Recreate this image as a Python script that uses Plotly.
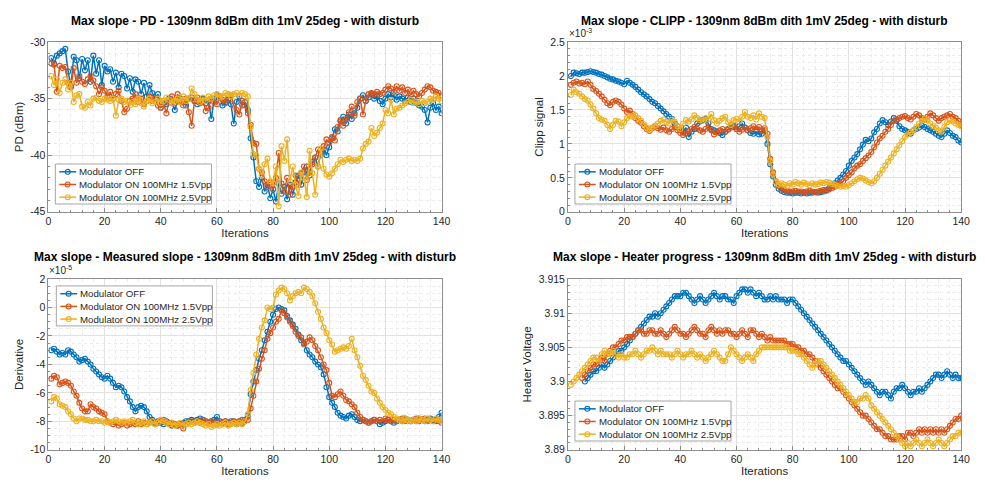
import plotly.graph_objects as go

# ---------------------------------------------------------------- data
iterations = list(range(1, 141))

series_names = ["Modulator OFF", "Modulator ON 100MHz 1.5Vpp", "Modulator ON 100MHz 2.5Vpp"]
series_colors = ["#0072BD", "#D95319", "#EDB120"]

# Photodiode power (dBm)
pd_off = [
    -31.4, -31.9, -31.2, -31.0, -30.8, -30.6, -32.6, -33.9, -31.3, -31.6,
    -33.2, -31.5, -32.5, -31.6, -33.5, -31.2, -32.8, -31.6, -33.8, -32.1,
    -32.6, -32.4, -33.5, -32.7, -34.0, -32.8, -33.0, -34.1, -33.2, -34.4,
    -33.3, -33.5, -34.6, -33.6, -34.8, -33.8, -34.5, -35.0, -34.6, -35.8,
    -35.2, -35.5, -35.0, -35.4, -36.0, -35.2, -35.0, -35.3, -35.6, -35.0,
    -34.9, -35.2, -35.5, -35.3, -35.0, -35.4, -35.2, -36.8, -35.0, -34.7,
    -34.9, -35.6, -35.3, -35.1, -35.5, -37.2, -35.3, -34.8, -35.6, -35.3,
    -36.0, -38.5, -40.2, -42.3, -42.8, -42.0, -43.2, -42.6, -43.8, -43.0,
    -44.1, -42.5, -43.4, -42.8, -43.9, -42.6, -43.5, -42.4, -41.8, -42.6,
    -41.5, -41.0, -41.8, -40.6, -40.2, -41.0, -39.8, -39.5, -40.0, -39.3,
    -38.5, -37.7, -37.9, -37.0, -36.6, -37.2, -36.4, -36.8, -36.3, -35.8,
    -35.0, -34.7, -35.2, -34.9, -34.6, -35.0, -34.8, -35.2, -35.5, -35.0,
    -34.6, -34.9, -34.7, -35.1, -34.8, -35.0, -35.2, -34.9, -35.3, -35.0,
    -35.4, -35.6, -35.7, -36.0, -37.1, -35.8, -35.4, -36.0, -35.7, -36.3,
]
pd_on15 = [
    -31.9, -32.0, -34.4, -32.1, -32.3, -32.2, -33.6, -34.0, -32.3, -33.6,
    -33.0, -33.5, -33.7, -33.3, -33.0, -33.4, -33.9, -34.6, -34.0, -34.3,
    -34.8, -34.4, -35.0, -34.6, -34.3, -35.2, -36.2, -35.9, -35.2, -35.0,
    -34.6, -35.3, -35.0, -35.5, -35.2, -34.8, -35.2, -35.0, -35.6, -35.8,
    -35.4, -36.3, -35.1, -34.8, -35.4, -34.6, -35.3, -35.6, -35.0, -36.2,
    -37.4, -35.2, -34.9, -35.4, -35.1, -36.1, -35.8, -35.0, -35.3, -35.5,
    -34.8, -35.1, -35.4, -35.0, -34.7, -35.6, -36.0, -36.4, -35.2, -35.6,
    -36.3, -37.3, -38.9, -39.0, -41.2, -41.5, -42.3, -42.8, -42.4, -43.0,
    -42.0, -39.8, -42.5, -43.2, -42.0, -43.5, -42.8, -41.8, -42.6, -41.6,
    -41.0, -42.2, -41.5, -40.8, -40.2, -39.5, -40.0, -39.2, -38.6, -38.9,
    -38.4, -38.7, -37.5, -36.9, -37.4, -36.8, -36.2, -35.7, -36.5, -35.3,
    -35.0, -36.4, -35.2, -34.6, -34.5, -34.6, -34.4, -34.6, -34.5, -34.2,
    -33.9, -34.1, -34.4, -33.9, -34.3, -34.0, -34.5, -34.2, -34.7, -34.3,
    -34.6, -34.8, -34.5, -34.2, -33.9, -34.0, -34.3, -34.4, -34.5, -34.7,
]
pd_on25 = [
    -33.0, -33.8, -33.3, -34.5, -33.6, -33.3, -34.2, -33.6, -35.3, -34.7,
    -34.6, -35.7, -35.8, -35.3, -35.6, -35.0, -34.9, -35.2, -35.3, -35.0,
    -35.1, -35.2, -35.0, -36.5, -35.1, -35.0, -35.3, -35.2, -35.6, -35.3,
    -35.5, -35.0, -35.4, -35.7, -35.2, -35.0, -35.4, -35.3, -35.0, -35.4,
    -35.2, -34.9, -35.1, -35.4, -35.2, -35.0, -35.3, -34.8, -35.2, -35.0,
    -34.1, -34.6, -35.1, -35.3, -34.9, -35.2, -34.8, -35.0, -34.7, -34.6,
    -34.9, -34.8, -34.5, -34.6, -34.8, -34.6, -34.5, -34.7, -34.5, -34.6,
    -34.8, -37.5, -39.9, -40.0, -41.2, -41.8, -40.8, -40.3, -42.3, -42.5,
    -41.0, -44.5, -39.2, -40.5, -38.6, -42.3, -41.0, -42.6, -43.6, -41.5,
    -42.0, -43.7, -39.6, -41.6, -43.5, -41.0, -39.4, -41.2, -41.7, -41.9,
    -41.6, -41.2, -40.8, -40.4, -40.6, -40.4, -40.3, -40.5, -40.4, -40.5,
    -40.3, -39.4, -39.0, -38.8, -37.6, -38.3, -38.0, -37.6, -37.2, -36.0,
    -36.3, -35.1, -36.4, -35.9, -35.8, -35.6, -35.4, -35.3, -35.1, -35.4,
    -35.3, -35.5, -35.2, -35.4, -35.3, -35.0, -35.1, -34.8, -35.0, -35.2,
]

# Clipping signal, in units of 1e-3
clipp_off = [
    2.00, 2.05, 2.04, 2.03, 2.05, 2.05, 2.06, 2.07, 2.06, 2.05,
    2.03, 2.02, 2.00, 1.98, 1.96, 1.95, 1.93, 1.92, 1.90, 1.88,
    1.93, 1.90, 1.87, 1.84, 1.80, 1.76, 1.73, 1.70, 1.66, 1.62,
    1.60, 1.56, 1.52, 1.48, 1.44, 1.40, 1.37, 1.30, 1.26, 1.20,
    1.18, 1.24, 1.10, 1.18, 1.22, 1.30, 1.33, 1.35, 1.37, 1.30,
    1.22, 1.20, 1.18, 1.16, 1.13, 1.18, 1.22, 1.28, 1.25, 1.22,
    1.26, 1.30, 1.24, 1.20, 1.16, 1.15, 1.18, 1.14, 1.15, 1.20,
    1.00, 0.70, 0.52, 0.40, 0.34, 0.31, 0.29, 0.28, 0.28, 0.27,
    0.28, 0.28, 0.27, 0.28, 0.27, 0.28, 0.28, 0.29, 0.28, 0.29,
    0.30, 0.32, 0.35, 0.38, 0.42, 0.46, 0.50, 0.55, 0.60, 0.68,
    0.75, 0.80, 0.85, 0.92, 0.99, 1.06, 1.04, 1.08, 1.17, 1.22,
    1.30, 1.35, 1.32, 1.28, 1.33, 1.38, 1.34, 1.26, 1.22, 1.20,
    1.18, 1.15, 1.20, 1.22, 1.24, 1.27, 1.25, 1.22, 1.20, 1.18,
    1.15, 1.12, 1.10, 1.15, 1.20, 1.16, 1.12, 1.10, 1.05, 1.02,
]
clipp_on15 = [
    1.87, 1.90, 1.92, 1.89, 1.90, 1.88, 1.92, 1.87, 1.81, 1.78,
    1.74, 1.70, 1.65, 1.60, 1.57, 1.62, 1.64, 1.62, 1.58, 1.52,
    1.47, 1.49, 1.44, 1.38, 1.34, 1.31, 1.26, 1.22, 1.19, 1.23,
    1.26, 1.23, 1.21, 1.24, 1.20, 1.18, 1.22, 1.25, 1.20, 1.16,
    1.13, 1.15, 1.19, 1.22, 1.25, 1.22, 1.20, 1.18, 1.22, 1.25,
    1.20, 1.14, 1.17, 1.20, 1.22, 1.18, 1.21, 1.24, 1.27, 1.22,
    1.18, 1.21, 1.24, 1.20, 1.23, 1.26, 1.22, 1.25, 1.20, 1.23,
    1.15, 0.78, 0.58, 0.45, 0.38, 0.34, 0.32, 0.31, 0.30, 0.30,
    0.31, 0.30, 0.30, 0.29, 0.30, 0.31, 0.30, 0.29, 0.30, 0.31,
    0.32, 0.31, 0.33, 0.35, 0.37, 0.40, 0.42, 0.45, 0.50, 0.54,
    0.58, 0.64, 0.68, 0.70, 0.75, 0.79, 0.83, 0.88, 0.95, 1.02,
    1.08, 1.12, 1.18, 1.22, 1.28, 1.34, 1.36, 1.38, 1.40, 1.41,
    1.38, 1.36, 1.40, 1.44, 1.42, 1.38, 1.36, 1.40, 1.45, 1.42,
    1.38, 1.34, 1.38, 1.40, 1.42, 1.44, 1.40, 1.38, 1.34, 1.28,
]
clipp_on25 = [
    1.72, 1.80, 1.76, 1.74, 1.70, 1.66, 1.64, 1.58, 1.52, 1.45,
    1.38, 1.36, 1.34, 1.28, 1.22, 1.28, 1.34, 1.33, 1.26, 1.32,
    1.38, 1.41, 1.40, 1.42, 1.38, 1.34, 1.29, 1.24, 1.20, 1.24,
    1.27, 1.30, 1.34, 1.36, 1.32, 1.30, 1.36, 1.33, 1.26, 1.22,
    1.30, 1.35, 1.33, 1.36, 1.42, 1.38, 1.35, 1.34, 1.38, 1.36,
    1.44, 1.35, 1.30, 1.34, 1.38, 1.40, 1.32, 1.28, 1.35, 1.37,
    1.33, 1.40, 1.47, 1.40, 1.38, 1.42, 1.36, 1.45, 1.40, 1.38,
    1.10, 0.75, 0.55, 0.44, 0.40, 0.42, 0.40, 0.38, 0.42, 0.40,
    0.44, 0.42, 0.40, 0.43, 0.41, 0.39, 0.42, 0.40, 0.41, 0.43,
    0.42, 0.44, 0.43, 0.41, 0.40, 0.38, 0.37, 0.38, 0.37, 0.39,
    0.42, 0.45, 0.48, 0.50, 0.49, 0.46, 0.44, 0.42, 0.45, 0.50,
    0.56, 0.62, 0.68, 0.74, 0.80, 0.86, 0.92, 0.98, 1.04, 1.10,
    1.14, 1.17, 1.20, 1.25, 1.30, 1.34, 1.37, 1.35, 1.30, 1.26,
    1.24, 1.20, 1.18, 1.25, 1.32, 1.35, 1.33, 1.30, 1.28, 1.26,
]

# Measured slope (derivative), in units of 1e-5
slope_off = [
    -3.0, -2.9, -3.1, -3.3, -3.2, -3.3, -3.0, -3.1, -3.3, -3.5,
    -3.8, -3.7, -3.6, -3.8, -4.0, -4.3, -4.5, -4.7, -4.9, -5.0,
    -4.8, -5.0, -5.3, -5.6, -5.5, -5.6, -5.9, -6.3, -6.6, -7.0,
    -7.3, -7.0, -6.9, -7.0, -7.3, -7.7, -7.9, -8.1, -8.0, -8.1,
    -8.2, -8.0, -8.1, -8.3, -8.2, -8.3, -8.2, -8.1, -8.0, -8.0,
    -7.9, -8.0, -7.9, -7.8, -7.9, -8.0, -8.1, -8.0, -7.9, -7.7,
    -8.0, -8.1, -8.0, -8.1, -8.0, -8.0, -8.2, -8.0, -8.1, -7.9,
    -7.6, -6.1, -5.2, -4.4, -3.6, -3.0, -2.3, -1.7, -1.0, -0.5,
    -0.1, 0.0, -0.1, -0.2, -0.6, -0.9, -1.2, -1.5, -1.9, -2.3,
    -2.5, -3.0, -3.3, -3.5, -3.8, -4.0, -4.2, -4.7, -5.6, -6.3,
    -6.7, -7.0, -7.4, -7.6, -7.7, -7.8, -7.6, -7.5, -7.7, -7.9,
    -8.0, -7.9, -8.0, -8.1, -8.0, -7.9, -8.0, -8.2, -8.1, -8.0,
    -7.9, -8.0, -8.1, -8.0, -7.9, -8.0, -7.8, -7.9, -8.0, -7.9,
    -8.0, -7.8, -7.9, -8.0, -7.9, -7.8, -7.9, -8.0, -7.7, -7.4,
]
slope_on15 = [
    -5.0, -4.8, -4.9, -5.4, -5.3, -5.2, -5.3, -5.5, -5.9, -6.2,
    -6.7, -7.1, -7.3, -7.3, -6.8, -7.0, -7.1, -7.3, -7.4, -7.5,
    -8.0, -8.1, -8.2, -8.1, -8.3, -8.2, -8.1, -8.3, -8.2, -8.1,
    -8.2, -8.0, -8.2, -8.1, -8.2, -8.1, -8.0, -8.2, -8.1, -8.0,
    -7.9, -8.1, -8.2, -8.1, -8.2, -8.3, -8.2, -8.5, -8.2, -8.1,
    -8.0, -8.1, -8.0, -8.1, -7.9, -8.0, -8.1, -8.0, -8.1, -8.2,
    -8.0, -8.1, -8.0, -8.2, -8.1, -8.0, -8.1, -8.0, -7.9, -8.0,
    -7.9, -7.1, -6.2, -5.2, -4.3, -3.6, -3.0, -2.2, -1.8, -1.4,
    -1.0, -0.8, -0.2, -0.4, -0.7, -1.0, -1.3, -1.7, -2.0, -2.1,
    -2.6, -2.4, -2.1, -2.3, -2.7, -3.0, -3.5, -4.0, -4.4, -5.3,
    -6.2, -6.3, -6.1, -5.9, -6.2, -6.5, -6.6, -6.8, -7.0, -7.4,
    -7.7, -7.9, -8.0, -8.1, -8.0, -7.9, -8.0, -7.9, -8.0, -7.8,
    -7.9, -8.0, -7.9, -8.0, -7.9, -7.8, -8.0, -7.9, -8.0, -7.9,
    -7.8, -8.0, -7.9, -7.8, -8.0, -7.9, -8.0, -7.9, -8.0, -8.1,
]
slope_on25 = [
    -6.6, -6.3, -6.4, -6.8, -6.9, -7.0, -7.3, -7.5, -7.8, -8.0,
    -7.8, -7.8, -7.9, -7.9, -8.0, -8.0, -7.9, -8.0, -8.0, -8.1,
    -8.0, -8.1, -8.0, -7.9, -8.0, -8.1, -8.0, -8.1, -8.0, -7.9,
    -8.1, -8.2, -8.1, -8.0, -8.2, -8.1, -8.0, -8.2, -8.1, -7.9,
    -8.0, -8.1, -8.2, -8.1, -8.3, -8.2, -8.1, -8.3, -8.2, -8.1,
    -8.2, -8.1, -8.0, -8.1, -8.2, -8.3, -8.2, -8.4, -8.3, -8.2,
    -8.3, -8.2, -8.1, -8.3, -8.2, -8.1, -8.2, -8.1, -8.2, -8.0,
    -7.5, -5.8, -4.6, -3.3, -2.2, -1.4, -0.9, 0.0, -0.1, 0.0,
    0.9, 1.2, 1.4, 1.3, 1.0, 0.5, 0.8, 1.0, 1.1, 1.0,
    1.4, 1.3, 1.1, 0.8, 0.3, -0.3, -0.8, -1.4, -1.8, -2.3,
    -2.6, -3.1, -3.0, -2.9, -2.8, -2.9, -2.7, -2.2, -3.0, -3.5,
    -4.1, -4.8, -5.1, -5.5, -5.9, -6.0, -6.4, -6.7, -7.0, -7.2,
    -7.4, -7.5, -7.7, -7.8, -7.9, -8.0, -7.8, -7.9, -8.0, -7.9,
    -8.0, -7.8, -7.9, -8.0, -7.8, -7.9, -8.0, -7.8, -7.9, -8.0,
]

# Heater voltage (V); None where the run has no sample yet
heater_off = [
    None, None, None, None, None, 3.9000, 3.9005, 3.9010, 3.9015, 3.9015,
    3.9020, 3.9025, 3.9020, 3.9025, 3.9030, 3.9035, 3.9040, 3.9045, 3.9045, 3.9050,
    3.9055, 3.9060, 3.9065, 3.9070, 3.9075, 3.9080, 3.9085, 3.9090, 3.9095, 3.9095,
    3.9100, 3.9095, 3.9100, 3.9105, 3.9110, 3.9115, 3.9120, 3.9125, 3.9125, 3.9125,
    3.9130, 3.9130, 3.9125, 3.9120, 3.9115, 3.9120, 3.9125, 3.9120, 3.9115, 3.9120,
    3.9125, 3.9130, 3.9125, 3.9120, 3.9125, 3.9125, 3.9120, 3.9120, 3.9115, 3.9125,
    3.9130, 3.9135, 3.9135, 3.9130, 3.9135, 3.9130, 3.9125, 3.9130, 3.9125, 3.9120,
    3.9120, 3.9125, 3.9120, 3.9125, 3.9120, 3.9120, 3.9120, 3.9115, 3.9120, 3.9120,
    3.9115, 3.9110, 3.9105, 3.9100, 3.9095, 3.9090, 3.9085, 3.9080, 3.9075, 3.9070,
    3.9065, 3.9060, 3.9055, 3.9050, 3.9045, 3.9040, 3.9035, 3.9030, 3.9030, 3.9025,
    3.9020, 3.9015, 3.9010, 3.9005, 3.9000, 3.8995, 3.9000, 3.8995, 3.8990, 3.8985,
    3.8980, 3.8985, 3.8985, 3.8980, 3.8975, 3.8985, 3.8990, 3.8990, 3.8995, 3.8990,
    3.8985, 3.8980, 3.8985, 3.8985, 3.8990, 3.8985, 3.8990, 3.8995, 3.9000, 3.9005,
    3.9010, 3.9010, 3.9005, 3.9010, 3.9015, 3.9010, 3.9005, 3.9010, 3.9005, 3.9005,
]
heater_on15 = [
    None, None, None, None, 3.9005, 3.9010, 3.9015, 3.9020, 3.9025, 3.9025,
    3.9030, 3.9035, 3.9030, 3.9040, 3.9045, 3.9050, 3.9050, 3.9055, 3.9060, 3.9060,
    3.9065, 3.9065, 3.9065, 3.9070, 3.9075, 3.9075, 3.9070, 3.9070, 3.9075, 3.9075,
    3.9070, 3.9070, 3.9075, 3.9070, 3.9065, 3.9070, 3.9075, 3.9080, 3.9075, 3.9070,
    3.9070, 3.9065, 3.9070, 3.9075, 3.9080, 3.9075, 3.9070, 3.9070, 3.9065, 3.9075,
    3.9080, 3.9075, 3.9070, 3.9075, 3.9070, 3.9075, 3.9075, 3.9070, 3.9070, 3.9065,
    3.9070, 3.9075, 3.9070, 3.9065, 3.9075, 3.9075, 3.9070, 3.9065, 3.9070, 3.9065,
    3.9060, 3.9065, 3.9060, 3.9060, 3.9060, 3.9060, 3.9060, 3.9055, 3.9055, 3.9055,
    3.9050, 3.9050, 3.9045, 3.9045, 3.9040, 3.9040, 3.9035, 3.9030, 3.9025, 3.9020,
    3.9015, 3.9010, 3.9005, 3.9000, 3.8995, 3.8990, 3.8990, 3.8985, 3.8980, 3.8975,
    3.8970, 3.8965, 3.8960, 3.8955, 3.8950, 3.8950, 3.8945, 3.8940, 3.8935, 3.8930,
    3.8930, 3.8925, 3.8920, 3.8920, 3.8915, 3.8915, 3.8915, 3.8920, 3.8920, 3.8915,
    3.8925, 3.8925, 3.8920, 3.8925, 3.8930, 3.8925, 3.8930, 3.8925, 3.8930, 3.8925,
    3.8930, 3.8925, 3.8930, 3.8925, 3.8930, 3.8935, 3.8940, 3.8945, 3.8945, 3.8950,
]
heater_on25 = [
    3.8995, 3.9000, 3.9005, 3.9010, 3.9015, 3.9020, 3.9025, 3.9030, 3.9035, 3.9035,
    3.9030, 3.9040, 3.9045, 3.9040, 3.9040, 3.9045, 3.9040, 3.9035, 3.9040, 3.9035,
    3.9035, 3.9040, 3.9040, 3.9045, 3.9040, 3.9035, 3.9040, 3.9045, 3.9045, 3.9050,
    3.9045, 3.9040, 3.9045, 3.9040, 3.9040, 3.9040, 3.9035, 3.9040, 3.9045, 3.9040,
    3.9035, 3.9040, 3.9040, 3.9045, 3.9040, 3.9035, 3.9040, 3.9035, 3.9030, 3.9035,
    3.9040, 3.9045, 3.9040, 3.9035, 3.9030, 3.9030, 3.9040, 3.9050, 3.9045, 3.9040,
    3.9035, 3.9030, 3.9035, 3.9040, 3.9035, 3.9030, 3.9040, 3.9045, 3.9050, 3.9050,
    3.9050, 3.9050, 3.9050, 3.9050, 3.9050, 3.9050, 3.9050, 3.9050, 3.9045, 3.9045,
    3.9045, 3.9040, 3.9040, 3.9035, 3.9030, 3.9025, 3.9020, 3.9025, 3.9030, 3.9030,
    3.9025, 3.9020, 3.9015, 3.9010, 3.9005, 3.9000, 3.8995, 3.8990, 3.8985, 3.8980,
    3.8975, 3.8970, 3.8970, 3.8975, 3.8975, 3.8980, 3.8975, 3.8965, 3.8960, 3.8955,
    3.8950, 3.8945, 3.8940, 3.8935, 3.8930, 3.8925, 3.8920, 3.8915, 3.8910, 3.8905,
    3.8910, 3.8905, 3.8910, 3.8915, 3.8910, 3.8905, 3.8910, 3.8915, 3.8910, 3.8905,
    3.8910, 3.8915, 3.8910, 3.8905, 3.8910, 3.8915, 3.8920, 3.8920, 3.8925, 3.8925,
]

# Tick values / labels
x_ticks = [0, 20, 40, 60, 80, 100, 120, 140]
pd_ticks = [-45, -40, -35, -30]
pd_ticklabels = ["-45", "-40", "-35", "-30"]
clipp_ticks = [0, 0.5, 1, 1.5, 2, 2.5]
clipp_ticklabels = ["0", "0.5", "1", "1.5", "2", "2.5"]
slope_ticks = [-10, -8, -6, -4, -2, 0, 2]
slope_ticklabels = ["-10", "-8", "-6", "-4", "-2", "0", "2"]
heater_ticks = [3.89, 3.895, 3.9, 3.905, 3.91, 3.915]
heater_ticklabels = ["3.89", "3.895", "3.9", "3.905", "3.91", "3.915"]

panel_titles = [
    "Max slope - PD - 1309nm 8dBm dith 1mV 25deg - with disturb",
    "Max slope - CLIPP - 1309nm 8dBm dith 1mV 25deg - with disturb",
    "Max slope - Measured slope - 1309nm 8dBm dith 1mV 25deg - with disturb",
    "Max slope - Heater progress - 1309nm 8dBm dith 1mV 25deg - with disturb",
]

# ---------------------------------------------------------------- figure
W, H = 985, 486
FONT = "Liberation Sans, Arial, sans-serif"
fig = go.Figure()

panels = [
    ([pd_off, pd_on15, pd_on25], "x", "y"),
    ([clipp_off, clipp_on15, clipp_on25], "x2", "y2"),
    ([slope_off, slope_on15, slope_on25], "x3", "y3"),
    ([heater_off, heater_on15, heater_on25], "x4", "y4"),
]

for series, xa, ya in panels:
    for name, color, values in zip(series_names, series_colors, series):
        fig.add_trace(go.Scatter(
            x=iterations, y=values, name=name, xaxis=xa, yaxis=ya,
            mode="lines+markers", showlegend=False,
            line=dict(color=color, width=1.5),
            marker=dict(symbol="circle-open", size=5, color=color, line=dict(width=1.1)),
        ))

# plot-area boxes in pixels: (left, right) and (top, bottom)
left_px, right_px = (46, 444), (572, 970)
top_px, bottom_px = (37, 211), (280, 455)


def px_x(v):
    return v / W


def px_y(v):
    return 1 - v / H


def xdom(px):
    return [px_x(px[0]), px_x(px[1])]


def ydom(px):
    return [px_y(px[1]), px_y(px[0])]


axis_line = "#8c8c8c"
tick_font = dict(size=10.5, color="#262626")
label_font = dict(size=11.5, color="#262626")


def xaxis_style(dom, anchor):
    return dict(
        domain=dom, anchor=anchor, range=[0, 140],
        tickmode="array", tickvals=x_ticks, ticktext=[str(v) for v in x_ticks],
        showline=True, linecolor=axis_line, linewidth=1, mirror=True,
        ticks="inside", ticklen=4, tickcolor=axis_line,
        showgrid=True, gridcolor="#e1e1e1", gridwidth=1, zeroline=False,
        tickfont=tick_font,
        minor=dict(dtick=4, tick0=0, showgrid=True, gridcolor="#ebebeb",
                   griddash="dot", ticks="inside", ticklen=2, tickcolor=axis_line),
        title=dict(text="Iterations", font=label_font, standoff=1),
    )


def yaxis_style(dom, anchor, rng, tvals, ttext, minor_dtick, title):
    return dict(
        domain=dom, anchor=anchor, range=rng,
        tickmode="array", tickvals=tvals, ticktext=ttext,
        showline=True, linecolor=axis_line, linewidth=1, mirror=True,
        ticks="inside", ticklen=4, tickcolor=axis_line,
        showgrid=True, gridcolor="#e1e1e1", gridwidth=1, zeroline=False,
        tickfont=tick_font,
        minor=dict(dtick=minor_dtick, tick0=rng[0], showgrid=True, gridcolor="#ebebeb",
                   griddash="dot", ticks="inside", ticklen=2, tickcolor=axis_line),
        title=dict(text=title, font=label_font, standoff=4),
    )


fig.update_layout(
    width=W, height=H,
    margin=dict(l=0, r=0, t=0, b=0),
    paper_bgcolor="white", plot_bgcolor="white",
    font=dict(family=FONT, color="#262626"),
    showlegend=False,
    xaxis=xaxis_style(xdom(left_px), "y"),
    yaxis=yaxis_style(ydom(top_px), "x", [-45, -30], pd_ticks, pd_ticklabels, 1, "PD (dBm)"),
    xaxis2=xaxis_style(xdom(right_px), "y2"),
    yaxis2=yaxis_style(ydom(top_px), "x2", [0, 2.5], clipp_ticks, clipp_ticklabels, 0.1, "Clipp signal"),
    xaxis3=xaxis_style(xdom(left_px), "y3"),
    yaxis3=yaxis_style(ydom(bottom_px), "x3", [-10, 2], slope_ticks, slope_ticklabels, 0.5, "Derivative"),
    xaxis4=xaxis_style(xdom(right_px), "y4"),
    yaxis4=yaxis_style(ydom(bottom_px), "x4", [3.89, 3.915], heater_ticks, heater_ticklabels, 0.001, "Heater Voltage"),
)

# panel titles
title_pos = [
    ((left_px[0] + left_px[1]) / 2, 15),
    ((right_px[0] + right_px[1]) / 2, 15),
    ((left_px[0] + left_px[1]) / 2, 257),
    ((right_px[0] + right_px[1]) / 2, 257),
]
for text, (cx, cy) in zip(panel_titles, title_pos):
    fig.add_annotation(
        text=f"<b>{text}</b>", xref="paper", yref="paper",
        x=px_x(cx), y=px_y(cy), xanchor="center", yanchor="middle",
        showarrow=False, font=dict(size=12, color="#000000", family=FONT),
    )

# axis exponent labels
for text, (ex, ey) in [("×10<sup>-3</sup>", (571, 36)), ("×10<sup>-5</sup>", (45, 279))]:
    fig.add_annotation(text=text, xref="paper", yref="paper",
                       x=px_x(ex), y=px_y(ey), xanchor="left", yanchor="bottom",
                       showarrow=False, font=dict(size=10, color="#262626", family=FONT))

# compact boxed legends (top-left corner of each box, in pixels)
legend_corners = [(53, 162), (579, 162), (54, 287), (579, 405)]
box_w, box_h, row_h = 158, 41, 13
for lx, ly in legend_corners:
    fig.add_shape(type="rect", xref="paper", yref="paper",
                  x0=px_x(lx), x1=px_x(lx + box_w), y0=px_y(ly + box_h), y1=px_y(ly),
                  line=dict(color="#a6a6a6", width=1), fillcolor="white", layer="above")
    for i, (name, color) in enumerate(zip(series_names, series_colors)):
        cy = ly + 8 + i * row_h
        fig.add_shape(type="line", xref="paper", yref="paper",
                      x0=px_x(lx + 4), x1=px_x(lx + 21), y0=px_y(cy), y1=px_y(cy),
                      line=dict(color=color, width=1.5), layer="above")
        fig.add_shape(type="circle", xref="paper", yref="paper",
                      x0=px_x(lx + 10), x1=px_x(lx + 15), y0=px_y(cy + 2.5), y1=px_y(cy - 2.5),
                      line=dict(color=color, width=1.1), fillcolor="rgba(0,0,0,0)", layer="above")
        fig.add_annotation(text=name, xref="paper", yref="paper",
                           x=px_x(lx + 22), y=px_y(cy), xanchor="left", yanchor="middle",
                           showarrow=False, font=dict(size=9.7, color="#262626", family=FONT))

fig.write_html("out.html")
